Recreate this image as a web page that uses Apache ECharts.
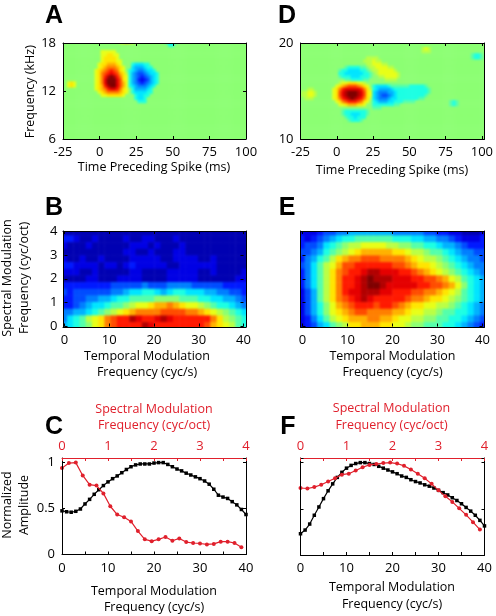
<!DOCTYPE html>
<html><head><meta charset="utf-8">
<style>html,body{margin:0;padding:0;background:#fff}#c{width:496px;height:616px}</style>
<script src="https://cdn.jsdelivr.net/npm/echarts@6/dist/echarts.min.js"></script>
</head><body><div id="c"></div>
<script>
// ---------- tick labels ----------
const timeTicks = [-25, 0, 25, 50, 75, 100];
const freqTicksA = [6, 12, 18];
const freqTicksD = [10, 20];
// ---------- panel A: receptive field patches ----------
const aMain = [
 [0,0,2,2,2,2,2,0,0,0,0,0,0,0,0,0,0,0,0,0,0,0],
 [0,0,2,2,3,3,2,2,0,0,0,0,0,0,0,0,0,0,0,0,0,0],
 [0,0,2,3,3,3,3,2,0,0,0,0,0,0,0,0,0,0,0,0,0,0],
 [0,0,2,3,3,3,3,2,2,0,0,0,0,0,0,0,0,0,0,0,0,0],
 [0,2,3,3,4,4,4,3,2,0,0,0,-2,-3,-3,-3,-2,-2,0,0,0,0],
 [0,2,3,4,5,5,5,4,3,2,0,0,-3,-4,-4,-4,-3,-2,-2,0,0,0],
 [2,3,4,5,6,7,6,5,3,2,0,-2,-3,-4,-5,-5,-4,-3,-3,-2,0,0],
 [2,3,5,6,7,8,7,6,4,3,1,-2,-4,-5,-6,-6,-5,-4,-3,-3,-2,0],
 [2,3,5,7,9,10,9,7,5,3,2,-2,-4,-5,-6,-7,-6,-5,-4,-3,-2,0],
 [2,3,5,8,10,11,10,8,6,3,2,-2,-4,-5,-7,-8,-7,-6,-4,-3,-2,0],
 [2,3,5,8,10,11,10,8,6,4,2,-2,-4,-5,-6,-7,-6,-5,-4,-3,-2,0],
 [2,3,4,7,9,10,10,8,6,4,2,-2,-3,-4,-5,-5,-5,-4,-3,-2,0,0],
 [2,3,4,5,7,8,8,7,5,3,2,0,-2,-4,-4,-4,-4,-3,-2,0,0,0],
 [0,2,3,4,5,5,5,5,4,3,2,0,-2,-3,-3,-3,-3,-2,-2,0,0,0],
 [0,0,2,2,3,3,3,3,3,2,0,0,0,-2,-3,-3,-2,-2,0,0,0,0],
 [0,0,0,0,0,0,0,0,0,0,0,0,0,-2,-3,-3,-2,0,0,0,0,0],
 [0,0,0,0,0,0,0,0,0,0,0,0,0,0,-2,-2,-2,0,0,0,0,0]
];
const aSpot = [[2,3,2],[2,3,2]];
const aTopWarm = [[2,3,4,3,2]];
const aTopCool = [[-2,-3,-3,-2],[0,-2,-2,0]];
// ---------- panel D patches ----------
const dRed = [
 [0,0,1,2,2,3,3,3,2,2,1,0,0],
 [0,2,3,4,5,6,6,6,5,4,3,2,0],
 [2,3,5,7,8,8,8,8,8,7,5,3,1],
 [2,3,6,8,9,10,10,10,9,8,6,3,2],
 [2,3,6,8,9,10,11,10,9,8,6,3,2],
 [2,3,5,7,8,9,10,9,8,7,5,3,1],
 [0,2,3,5,6,7,7,7,6,5,3,2,0],
 [0,0,2,2,3,4,4,4,3,3,2,0,0]
];
const dBlue = [
 [-2,-3,-3,-3,-3,-2,-1,-1,-1,-1,-1,-1,-2,-2,-2,-2,-2,-1,0,0],
 [-2,-3,-4,-4,-4,-4,-3,-2,-2,-2,-2,-2,-2,-2,-2,-2,-2,-2,-1,0],
 [-3,-4,-5,-5,-5,-4,-4,-3,-2,-2,-2,-2,-2,-2,-2,-2,-2,-2,-1,0],
 [-3,-4,-5,-6,-6,-5,-4,-3,-2,-2,-2,-2,-2,-2,-2,-2,-2,-1,0,0],
 [-3,-4,-5,-5,-5,-4,-3,-3,-2,-2,-2,-2,-2,-2,-2,-1,-1,0,0,0],
 [-2,-3,-4,-4,-4,-3,-3,-2,-2,-2,-1,-1,-1,-1,0,0,0,0,0,0],
 [-2,-2,-2,-2,-2,-2,-2,-1,-1,0,0,0,0,0,0,0,0,0,0,0],
 [-1,-1,-1,0,0,0,0,0,0,0,0,0,0,0,0,0,0,0,0,0]
];
const dUpperWarm = [
 [0,1,1,1,1,0,0,0,0,0,0,0,0],
 [1,1,1,2,1,1,0,0,0,0,0,0,0],
 [0,1,1,2,2,2,1,1,0,0,0,0,0],
 [0,0,1,1,2,2,2,2,1,1,0,0,0],
 [0,0,0,1,1,2,2,2,2,2,1,0,0],
 [0,0,0,0,1,2,2,2,2,2,2,1,0],
 [0,0,0,0,0,1,1,2,2,2,2,1,0],
 [0,0,0,0,0,0,0,1,1,1,1,0,0]
];
const dUpperCool = [
 [0,0,-1,-2,-2,-2,-2,-1,-1,0,0],
 [-1,-2,-2,-3,-3,-3,-3,-2,-2,-1,0],
 [-2,-2,-3,-3,-3,-3,-3,-3,-2,-2,-1],
 [-1,-2,-2,-2,-3,-3,-3,-2,-2,-2,-1],
 [0,0,-1,-1,-2,-2,-2,-2,-1,-1,0]
];
const dLowerCool = [
 [-1,-2,-2,-2,-2,-2,-2,-2,-1],
 [-1,-2,-2,-3,-3,-3,-2,-2,-1],
 [0,-1,-2,-2,-3,-2,-2,-2,0],
 [0,0,-1,-2,-2,-2,-1,0,0]
];
const dLeftSpot = [[0,0,1,1,0],[1,1,2,2,1],[1,1,2,2,1],[0,1,1,1,0]];
const dSmallWarm = [[1,2,1],[1,1,1]];
const dSmallCool1 = [[-1,-2,-2,-1],[-1,-2,-2,-1]];
const dSmallCool2 = [[-1,-2,-1],[-1,-2,-1]];
// ---------- panel B / E modulation transfer functions, top row first ----------
const mtfB = [
 [1,1,1,1,1,1,1,1,1,1,1,1,1,1,1,1,1,1,1,1,1,1,1,1,1,1,1,1,1,1],
 [3,3,2,1,1,2,1,1,1,1,2,1,1,2,2,1,1,1,2,1,1,1,1,1,1,1,1,1,1,1],
 [2,1,1,1,2,1,1,1,1,1,1,2,2,2,1,2,1,1,1,2,1,1,1,1,1,1,1,1,1,1],
 [1,1,1,1,1,1,1,1,1,1,2,2,1,1,2,1,1,1,2,2,1,1,1,1,1,1,1,1,1,1],
 [2,1,1,2,1,1,2,1,1,1,1,2,2,2,2,2,1,1,2,2,2,2,1,1,2,1,1,1,1,1],
 [3,3,2,2,2,2,1,2,2,1,2,3,2,2,2,2,2,1,1,2,2,2,2,2,2,1,1,1,1,1],
 [2,2,2,1,1,2,1,1,1,1,1,2,2,1,1,1,1,2,2,2,2,2,1,1,2,1,1,1,1,2],
 [1,1,1,1,2,2,1,1,1,2,2,2,2,1,1,1,1,2,2,2,2,2,1,1,1,1,1,1,2,2],
 [3,3,3,3,3,3,3,3,4,4,4,4,4,5,4,4,4,5,5,5,5,4,4,4,4,4,3,3,3,3],
 [4,3,4,4,4,4,4,4,5,5,6,7,7,8,8,7,6,7,8,8,7,7,7,6,6,5,5,4,4,3],
 [3,3,4,4,5,5,6,6,7,8,8,9,9,9,9,10,10,10,10,9,9,9,8,8,7,7,6,6,5,4],
 [3,3,4,5,6,7,7,8,9,9,10,11,12,12,13,14,14,15,14,13,12,12,11,10,9,8,8,7,6,5],
 [5,5,6,6,7,8,9,10,11,12,13,14,15,15,15,15,16,16,16,16,15,15,14,13,12,11,10,9,8,7],
 [5,7,8,9,11,12,13,15,16,17,17,19,18,17,17,18,19,18,17,17,17,17,17,17,15,13,11,10,9,8],
 [6,7,8,9,10,12,13,15,16,17,17,17,17,19,18,17,17,17,17,17,17,17,17,16,14,13,12,11,9,8]
];
const mtfE = [
 [2,2,2,3,4,4,5,5,6,6,6,6,6,6,6,5,5,5,5,5,4,4,3,3,2,2,1,1,1,2],
 [3,2,3,4,5,6,7,8,8,9,9,9,9,9,9,8,8,8,7,7,6,6,5,5,4,3,2,2,2,3],
 [3,4,4,5,7,8,9,10,11,11,12,12,12,12,11,11,10,10,9,9,8,8,7,6,6,5,4,3,3,3],
 [4,4,5,6,8,9,10,11,12,13,14,14,14,14,14,13,13,12,11,11,10,9,9,8,7,6,5,5,4,4],
 [3,5,6,8,9,11,13,14,15,15,16,16,16,15,15,15,15,14,13,12,11,11,10,9,8,7,6,5,5,4],
 [4,5,7,9,11,12,14,16,16,17,17,17,17,17,17,16,16,15,14,13,13,12,11,10,9,8,7,6,5,5],
 [3,5,7,9,11,13,15,16,17,17,18,19,19,18,18,18,17,17,16,15,14,13,12,11,10,9,8,7,6,5],
 [3,5,7,9,11,13,15,17,17,18,19,20,19,19,19,18,18,18,17,17,16,16,15,14,12,11,9,8,7,6],
 [3,5,7,9,11,13,15,17,17,18,19,20,20,19,18,18,18,18,18,17,17,16,16,15,14,12,10,8,7,6],
 [2,4,6,9,11,13,15,17,18,18,19,19,19,18,18,17,17,17,16,16,15,15,14,13,12,11,9,8,7,6],
 [2,4,6,9,11,13,15,16,17,18,19,18,17,17,17,17,17,16,15,15,14,13,13,12,11,10,9,8,7,6],
 [2,4,6,8,10,12,14,15,16,17,17,17,16,17,17,16,15,14,13,13,12,12,11,11,10,9,8,7,6,5],
 [2,4,6,8,10,12,13,14,15,16,16,15,15,15,15,14,14,13,12,12,11,11,10,9,9,8,8,7,6,5],
 [2,3,5,7,9,11,12,13,14,14,14,15,15,14,14,13,12,12,11,11,10,10,9,9,8,8,7,6,5,4],
 [2,3,4,6,7,9,10,11,13,13,14,14,14,13,13,12,12,11,10,10,9,9,9,8,8,7,6,5,4,3]
];
// ---------- panels C / F ----------
const temporalFreq = [0,1,2,3,4,5,6,7,8,9,10,11,12,13,14,15,16,17,18,19,20,21,22,23,24,25,26,27,28,29,30,31,32,33,34,35,36,37,38,39,40];
const spectralFreq = [0,.15,.3,.45,.6,.75,.9,1.05,1.2,1.35,1.5,1.65,1.8,1.95,2.1,2.25,2.4,2.55,2.7,2.85,3,3.15,3.3,3.45,3.6,3.75,3.9];
const cTemporal = [.475,.465,.46,.47,.495,.55,.6,.655,.705,.75,.79,.825,.855,.89,.925,.955,.975,.985,.985,.985,.995,1,1,.98,.955,.93,.91,.885,.865,.845,.825,.8,.765,.71,.645,.625,.61,.575,.54,.49,.435];
const cSpectral = [.94,.995,1,.86,.76,.75,.665,.525,.435,.405,.36,.255,.165,.145,.165,.19,.15,.175,.135,.125,.12,.11,.115,.14,.14,.125,.08];
const fTemporal = [.23,.27,.335,.43,.52,.61,.695,.77,.84,.895,.94,.97,.99,1,1,.99,.98,.96,.94,.92,.9,.88,.855,.84,.815,.795,.78,.76,.745,.725,.7,.675,.65,.62,.59,.555,.515,.475,.43,.375,.315];
const fSpectral = [.725,.72,.735,.76,.795,.83,.87,.88,.915,.95,.975,.985,.995,1,.99,.965,.925,.88,.83,.77,.7,.635,.575,.505,.435,.355,.275];
// ---------- text ----------
const timeName = 'Time Preceding Spike (ms)';
const freqName = 'Frequency (kHz)';
const specName = 'Spectral Modulation\nFrequency (cyc/oct)';
const tempName = 'Temporal Modulation\nFrequency (cyc/s)';
const normName = 'Normalized\nAmplitude';

const FONT = '"Open Sans"', FS = 13, NS = 12.5, RED = '#e0202c', GREEN = '#8cff73';
const JET = ['#00007f','#0000ff','#007fff','#00ffff',GREEN,'#ffff00','#ff7f00','#ff0000','#7f0000'];

function fill(nCols, nRows, patches) {
  const m = [];
  for (let r = 0; r < nRows; r++) m.push(new Array(nCols).fill(0));
  patches.forEach(([c0, r0, rows]) => rows.forEach((row, r) => row.forEach((v, c) => { if (v) m[r0 + r][c0 + c] = v; })));
  return m;
}
const stimA = fill(61, 32, [[11,3,aMain],[2,13,aSpot],[19,0,aTopWarm],[34,0,aTopCool]]);
const stimD = fill(61, 32, [[21,5,dUpperWarm],[13,8,dUpperCool],[11,13,dRed],[24,14,dBlue],[14,22,dLowerCool],[1,15,dLeftSpot],[40,2,dSmallWarm],[56,4,dSmallCool1],[49,19,dSmallCool2]]);

const grid = [], xAxis = [], yAxis = [], series = [], graphic = [];
const idx = a => Array.from({length: a}, (_, i) => i);

function axisBase(extra) {
  return Object.assign({ z: 6, zlevel: 1, splitLine: {show: false}, axisLine: {show: false, onZero: false}, axisTick: {show: false}, axisLabel: {show: false} }, extra);
}
function heatPanel(box, tickBox, matrix, xMin, xMax, xInt, yMin, yMax, yInt, yLabels) {
  const nR = matrix.length, nC = matrix[0].length;
  // heat cells, drawn 2px past the frame so the softened layer stays solid up to the frame
  const h = grid.length;
  grid.push({left: box[0]-2, top: box[1]-2, width: box[2]+4, height: box[3]+4, show: false});
  const hx = xAxis.length;
  xAxis.push(axisBase({type:'category', gridIndex:h, data: idx(nC), boundaryGap:true}));
  const hy = yAxis.length;
  yAxis.push(axisBase({type:'category', gridIndex:h, data: idx(nR), inverse:true, boundaryGap:true}));
  const data = [];
  matrix.forEach((row, r) => row.forEach((v, c) => data.push([c, r, v])));
  series.push({type:'heatmap', zlevel:0, xAxisIndex: hx, yAxisIndex: hy, data, progressive: 0, animation:false, itemStyle:{borderWidth:0}, emphasis:{disabled:true}, z:2});
  // frame
  const g = grid.length;
  grid.push({left: box[0], top: box[1], width: box[2], height: box[3], show: false});
  const line = {show: true, onZero: false, lineStyle: {color: '#000', width: 1}};
  const frame = {type:'value', gridIndex:g, min:0, max:1, interval:1, axisLine: line};
  xAxis.push(axisBase(Object.assign({position:'bottom'}, frame)));
  xAxis.push(axisBase(Object.assign({position:'top'}, frame)));
  yAxis.push(axisBase(Object.assign({position:'left'}, frame)));
  yAxis.push(axisBase(Object.assign({position:'right'}, frame)));
  // real scales for ticks and labels
  const t = grid.length;
  grid.push({left: tickBox[0], top: tickBox[1], width: tickBox[2], height: tickBox[3], show:false});
  const tick = {show:true, inside:true, length:3, lineStyle:{color:'#000', width:1}};
  const label = {show:true, color:'#000', fontFamily:FONT, fontSize:FS, margin:7};
  xAxis.push(axisBase({type:'value', gridIndex:t, min:xMin, max:xMax, interval:xInt, position:'bottom', axisTick:tick, axisLabel:label}));
  xAxis.push(axisBase({type:'value', gridIndex:t, min:xMin, max:xMax, interval:xInt, position:'top', axisTick:tick}));
  yAxis.push(axisBase({type:'value', gridIndex:t, min:yMin, max:yMax, interval:yInt, position:'left', axisTick:tick, axisLabel: yLabels ? label : {show:false}}));
  yAxis.push(axisBase({type:'value', gridIndex:t, min:yMin, max:yMax, interval:yInt, position:'right', axisTick:tick}));
}
function linePanel(box, temporal, spectral, showY) {
  const g = grid.length;
  grid.push({left: box[0], top: box[1], width: box[2], height: box[3], show:false});
  const blk = {show:true, onZero:false, lineStyle:{color:'#000', width:1}};
  const rd = {show:true, onZero:false, lineStyle:{color:RED, width:1}};
  const tickK = {show:true, inside:true, length:3, lineStyle:{color:'#000'}};
  const tickR = {show:true, inside:true, length:3, lineStyle:{color:RED}};
  const lab = {show:true, color:'#000', fontFamily:FONT, fontSize:FS, margin:7};
  const xb = xAxis.length;
  xAxis.push(axisBase({type:'value', gridIndex:g, min:0, max:40, interval:10, position:'bottom', axisLine:blk, axisTick:tickK, axisLabel:lab,
    minorTick:{show:true, splitNumber:2, length:3, lineStyle:{color:'#000'}}}));
  xAxis.push(axisBase({type:'value', gridIndex:g, min:0, max:4, interval:1, position:'top', axisLine:rd, axisTick:tickR,
    axisLabel:{show:true, color:RED, fontFamily:FONT, fontSize:FS, margin:5},
    minorTick:{show:true, splitNumber:2, length:3, lineStyle:{color:RED}}}));
  const yb = yAxis.length;
  yAxis.push(axisBase({type:'value', gridIndex:g, min:0, max:1.05, interval:.5, position:'left', axisLine:blk, axisTick:tickK,
    axisLabel: showY ? Object.assign({}, lab, {showMaxLabel:false, formatter: v => v > 1 ? '' : String(v)}) : {show:false}}));
  yAxis.push(axisBase({type:'value', gridIndex:g, min:0, max:1.05, interval:.5, position:'right', axisLine:blk, axisTick:tickK}));
  series.push({type:'line', zlevel:1, xAxisIndex:xb, yAxisIndex:yb, data: temporalFreq.map((x,i)=>[x,temporal[i]]), symbol:'rect', symbolSize:3.5,
    showAllSymbol:true, lineStyle:{color:'#000', width:1.2}, itemStyle:{color:'#000'}, animation:false, z:4, clip:false});
  series.push({type:'line', zlevel:1, xAxisIndex:xb+1, yAxisIndex:yb, data: spectralFreq.map((x,i)=>[x,spectral[i]]), symbol:'circle', symbolSize:4, showAllSymbol:true,
    lineStyle:{color:RED, width:1.2}, itemStyle:{color:RED}, animation:false, z:5, clip:false});
}
function text(str, x, y, opt) {
  graphic.push({type:'text', zlevel:1, x, y, rotation: opt && opt.rot || 0, z: 20, style: Object.assign({text:str, fill:'#000', font:`${NS}px ${FONT}`, textAlign:'center', textVerticalAlign:'middle', lineHeight:16.5}, opt && opt.style)});
}
function letter(str, x, y) {
  graphic.push({type:'text', zlevel:1, x, y, z:20, style:{text:str, fill:'#000', font:'bold 25px "Liberation Sans"', textAlign:'center', textVerticalAlign:'middle'}});
}

const boxes = [[63,43,183,96],[300.5,43,184,96],[63,231,183,96],[300.5,231,184,96]];
heatPanel(boxes[0],[63,43,183,96], stimA, timeTicks[0], timeTicks[5], 25, freqTicksA[0], freqTicksA[2], 6, true);
heatPanel(boxes[1],[300.5,43,184,96], stimD, timeTicks[0], timeTicks[5], 25, freqTicksD[0], freqTicksD[1], 10, true);
heatPanel(boxes[2],[64.5,231,179,95.5], mtfB, 0, 40, 10, 0, 4, 1, true);
heatPanel(boxes[3],[302.5,231,180,95.5], mtfE, 0, 40, 10, 0, 4, 1, false);
linePanel([62,458,184,96.5], cTemporal, cSpectral, true);
linePanel([300.5,458,184,97], fTemporal, fSpectral, false);

text(timeName, 154, 167.5);
text(timeName, 392, 170.5);
text(tempName, 147, 364.5);
text(tempName, 392.5, 364.5);
text(tempName, 154, 599.5);
text(tempName, 392, 596);
text(specName, 154, 417.5, {style:{fill:RED}});
text(specName, 391.5, 417, {style:{fill:RED}});
text(freqName, 30, 91.7, {rot:Math.PI/2});
text(specName, 16, 278, {rot:Math.PI/2});
text(normName, 16, 505, {rot:Math.PI/2});
letter('A', 54, 16); letter('D', 287, 16);
letter('B', 54, 208); letter('E', 287, 208);
letter('C', 54, 427); letter('F', 288, 427);

const chart = echarts.init(document.getElementById('c'), null, {renderer:'canvas'});
chart.setOption({
  animation:false, backgroundColor:'#fff', grid, xAxis, yAxis, series, graphic,
  tooltip:{show:false},
  visualMap:[
    {type:'continuous', show:false, min:-10, max:10, seriesIndex:[0,1], dimension:2, inRange:{color:JET}},
    {type:'continuous', show:false, min:0, max:20, seriesIndex:[2,3], dimension:2, inRange:{color:JET}}
  ]
});
// soften only the bottom canvas layer (heat cells); axes, lines and text live on the layer above
const layer = document.querySelectorAll('#c canvas')[0];
layer.style.filter = 'blur(1.3px)';
layer.style.clipPath = "path('" + boxes.map(b => `M${b[0]} ${b[1]}h${b[2]}v${b[3]}h${-b[2]}z`).join(' ') + "')";
</script></body></html>
